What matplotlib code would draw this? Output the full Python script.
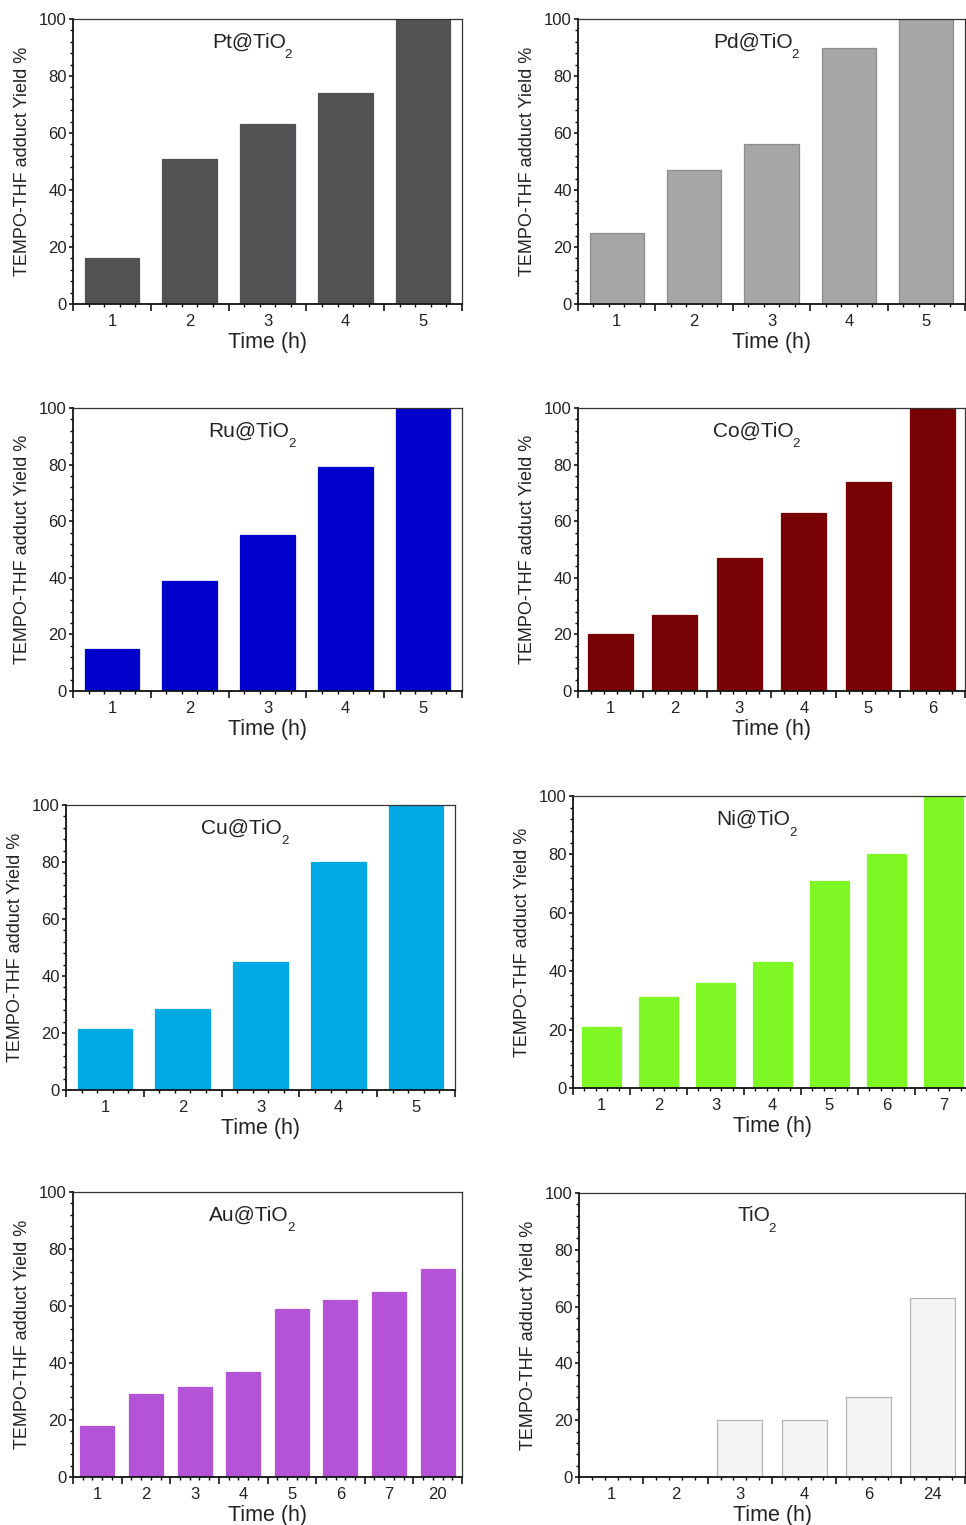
import numpy as np
import matplotlib.pyplot as plt
from matplotlib.ticker import MultipleLocator, FixedLocator, NullFormatter

plt.rcParams['font.family'] = ['Liberation Sans', 'DejaVu Sans']

W, H = 966, 1525
YLABEL = 'TEMPO-THF adduct Yield %'
XLABEL = 'Time (h)'

# data
pt_times = ['1', '2', '3', '4', '5']
pt_yield = [16, 51, 63, 74, 100]

pd_times = ['1', '2', '3', '4', '5']
pd_yield = [25, 47, 56, 90, 100]

ru_times = ['1', '2', '3', '4', '5']
ru_yield = [15, 39, 55, 79, 100]

co_times = ['1', '2', '3', '4', '5', '6']
co_yield = [20, 27, 47, 63, 74, 100]

cu_times = ['1', '2', '3', '4', '5']
cu_yield = [21.5, 28.5, 45, 80, 100]

ni_times = ['1', '2', '3', '4', '5', '6', '7']
ni_yield = [21, 31, 36, 43, 71, 80, 100]

au_times = ['1', '2', '3', '4', '5', '6', '7', '20']
au_yield = [18, 29, 31.5, 37, 59, 62, 65, 73]

tio2_times = ['1', '2', '3', '4', '6', '24']
tio2_yield = [0, 0, 20, 20, 28, 63]

# (label, times, yields, face, edge, box in pixels: left, right, top, bottom)
panels = [
    ('Pt@TiO', pt_times, pt_yield, '#525254', '#525254', (73, 462, 19, 304)),
    ('Pd@TiO', pd_times, pd_yield, '#a6a6a6', '#8c8c8c', (578, 965, 19, 304)),
    ('Ru@TiO', ru_times, ru_yield, '#0000cd', '#0000cd', (73, 462, 408, 691)),
    ('Co@TiO', co_times, co_yield, '#780203', '#780203', (578, 965, 408, 691)),
    ('Cu@TiO', cu_times, cu_yield, '#00a9e4', '#00a9e4', (66, 455, 805, 1090)),
    ('Ni@TiO', ni_times, ni_yield, '#7ff724', '#7ff724', (573, 972, 796, 1088)),
    ('Au@TiO', au_times, au_yield, '#b452d8', '#b452d8', (73, 462, 1192, 1477)),
    ('TiO', tio2_times, tio2_yield, '#f4f4f4', '#b4b4b4', (579, 965, 1193, 1477)),
]


def draw_panel(fig, name, times, yields, face, edge, box):
    l, r, t, b = box
    ax = fig.add_axes([l / W, 1 - b / H, (r - l) / W, (b - t) / H])
    n = len(times)
    x = np.arange(1, n + 1)
    ax.bar(x, yields, width=0.7, color=face, edgecolor=edge, linewidth=0.9)
    ax.set_xlim(0.5, n + 0.5)
    ax.set_ylim(0, 100)

    # ticks: long ones on bin edges, short ones every 0.2
    ax.xaxis.set_major_locator(FixedLocator(np.arange(0.5, n + 1, 1.0)))
    ax.xaxis.set_major_formatter(NullFormatter())
    ax.xaxis.set_minor_locator(MultipleLocator(0.2, offset=0.1))
    ax.yaxis.set_major_locator(MultipleLocator(20))
    ax.yaxis.set_minor_locator(MultipleLocator(4))
    ax.tick_params(axis='x', which='major', direction='out', length=5, width=1.1)
    ax.tick_params(axis='x', which='minor', direction='out', length=2.5, width=1.0)
    ax.tick_params(axis='y', which='major', direction='out', length=3, width=1.1,
                   labelsize=12, pad=1.5, labelcolor='#222222')
    ax.tick_params(axis='y', which='minor', direction='out', length=2, width=1.0)

    for side in ['left', 'bottom']:
        ax.spines[side].set_linewidth(1.3)
        ax.spines[side].set_color('#111111')
    for side in ['top', 'right']:
        ax.spines[side].set_linewidth(0.9)
        ax.spines[side].set_color('#333333')

    ax.set_ylabel(YLABEL, fontsize=13, labelpad=6, color='#222222')

    # category labels sit in the middle of each bin
    sec = ax.secondary_xaxis('bottom')
    sec.set_xticks(x, times)
    sec.tick_params(length=0, pad=7, labelsize=12, labelcolor='#222222')
    sec.spines['bottom'].set_visible(False)
    sec.set_xlabel(XLABEL, fontsize=15.5, labelpad=2.5, color='#222222')

    txt = ax.text(0.452, 0.90, name, transform=ax.transAxes, ha='center',
                  va='baseline', fontsize=15, color='#222222')
    ax.annotate('2', xy=(1, 0), xycoords=txt, xytext=(-1, 1.5), textcoords='offset points',
                ha='left', va='top', fontsize=9.5, color='#222222')
    return ax


fig = plt.figure(figsize=(W / 100, H / 100), dpi=100)
for name, times, yields, face, edge, box in panels:
    draw_panel(fig, name, times, yields, face, edge, box)

fig.savefig('out.png', dpi=100, facecolor='white')
